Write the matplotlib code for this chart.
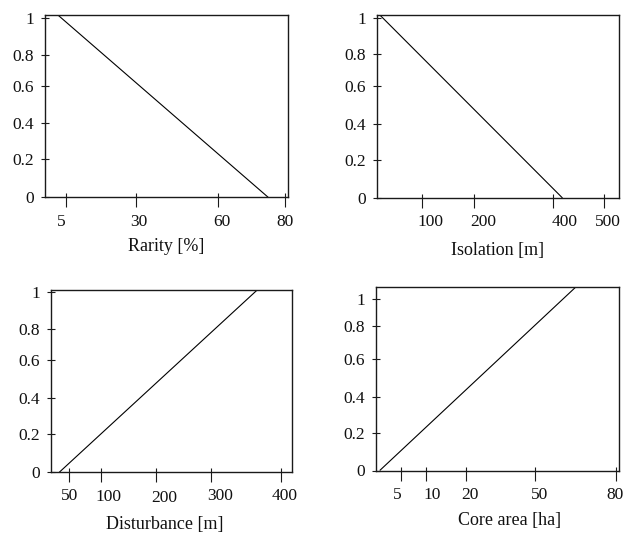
import numpy as np
import matplotlib
matplotlib.use("Agg")
import matplotlib.pyplot as plt

plt.rcParams['font.family'] = ['Liberation Serif', 'DejaVu Serif']

# Suitability curves (score vs. criterion value)
rarity = [2.1, 75]
rarity_score = [1.015, 0]
isolation = [20, 419]
isolation_score = [1.015, 0]
disturbance = [34, 366]
disturbance_score = [0, 1.009]
core_area = [0.8, 65]
core_score = [0, 1.088]

rarity_ticks = [5, 30, 60, 80]
isolation_ticks = [100, 200, 400, 500]
disturbance_ticks = [50, 100, 200, 300, 400]
core_ticks = [5, 10, 20, 50, 80]
score_ticks = [0, 0.2, 0.4, 0.6, 0.8, 1]
score_labels = ['0', '0.2', '0.4', '0.6', '0.8', '1']

W, H = 634, 535

# Layout in picture pixels. The original axes are hand drawn, tick spacing
# is uneven, so each axis gets a piecewise linear scale through its ticks.
panels = [
    dict(x=rarity, y=rarity_score, xticks=rarity_ticks, xlabel='Rarity [%]',
         box=(45, 15, 288.3, 197.3), xends=(-2.5, 81), ytop=1.015,
         xtick_px=[66, 135.7, 217.7, 285],
         xlab_px=[61.7, 139, 222.2, 285], xlab_py=[222.3] * 4,
         ytick_px=[197.3, 159.3, 123.3, 85.7, 55, 17.7],
         label_at=(166, 246.7)),
    dict(x=isolation, y=isolation_score, xticks=isolation_ticks, xlabel='Isolation [m]',
         box=(376.7, 15, 619.3, 198), xends=(14, 529), ytop=1.015,
         xtick_px=[421.7, 474, 552.7, 604.3],
         xlab_px=[430.8, 483, 564.2, 608.2], xlab_py=[222.3] * 4,
         ytick_px=[198, 160, 124, 86, 54.3, 17.7],
         label_at=(498, 250.7)),
    dict(x=disturbance, y=disturbance_score, xticks=disturbance_ticks, xlabel='Disturbance [m]',
         box=(50.7, 290, 292, 472.3), xends=(20.4, 415.7), ytop=1.009,
         xtick_px=[69.3, 100.7, 156, 211, 281],
         xlab_px=[69.5, 108.8, 164.5, 219.7, 284.5],
         xlab_py=[495.7, 496.7, 497.7, 495.7, 495.7],
         ytick_px=[472.3, 434, 397.7, 360, 329, 291.7],
         label_at=(165.2, 525)),
    dict(x=core_area, y=core_score, xticks=core_ticks, xlabel='Core area [ha]',
         box=(375.7, 287.3, 619.3, 470.5), xends=(0, 81.2), ytop=1.088,
         xtick_px=[401, 426, 465.7, 535, 616],
         xlab_px=[397, 431.7, 470, 540, 615.3], xlab_py=[495] * 5,
         ytick_px=[470.5, 433.3, 396.7, 359, 325.7, 299],
         label_at=(509.5, 521)),
]


def piecewise(xp, fp):
    xp = np.asarray(xp, float)
    fp = np.asarray(fp, float)

    def f(v):
        v = np.asarray(v, float)
        out = np.interp(v, xp, fp)
        lo = fp[0] + (v - xp[0]) * (fp[1] - fp[0]) / (xp[1] - xp[0])
        hi = fp[-1] + (v - xp[-1]) * (fp[-1] - fp[-2]) / (xp[-1] - xp[-2])
        out = np.where(v < xp[0], lo, out)
        out = np.where(v > xp[-1], hi, out)
        return out
    return f


fig = plt.figure(figsize=(W / 100, H / 100), dpi=100)
spine_c = '#1a1a1a'
text_c = '#111111'

for p in panels:
    left, top, right, bottom = p['box']
    ax = fig.add_axes([left / W, 1 - bottom / H, (right - left) / W, (bottom - top) / H])

    # x scale through the ticks
    xv = [p['xends'][0]] + p['xticks'] + [p['xends'][1]]
    xp = [left] + p['xtick_px'] + [right]
    ax.set_xscale('function', functions=(piecewise(xv, xp), piecewise(xp, xv)))
    ax.set_xlim(p['xends'])

    # y scale through the ticks
    yv = score_ticks + [p['ytop']]
    yp = [bottom - t for t in p['ytick_px']] + [bottom - top]
    ax.set_yscale('function', functions=(piecewise(yv, yp), piecewise(yp, yv)))
    ax.set_ylim(0, p['ytop'])

    ax.plot(p['x'], p['y'], color='black', lw=0.8, solid_capstyle='butt')

    for s in ax.spines.values():
        s.set_color(spine_c)
        s.set_linewidth(1.0)

    ax.set_yticks(score_ticks)
    ax.set_yticklabels(score_labels)
    ax.tick_params(axis='y', direction='inout', length=5.8, width=0.8,
                   color=spine_c, pad=5, labelsize=12.5, labelcolor=text_c)

    # x ticks stick out further than in: out major + in minor
    ax.xaxis.remove_overlapping_locs = False
    ax.set_xticks(p['xticks'])
    ax.set_xticks(p['xticks'], minor=True)
    ax.tick_params(axis='x', which='major', direction='out', length=7.2, width=0.8,
                   color=spine_c, labelbottom=False)
    ax.tick_params(axis='x', which='minor', direction='in', length=2.9, width=0.8,
                   color=spine_c, labelbottom=False)

    # tick labels sit a little off their ticks in the original
    for v, tx, lx, ly in zip(p['xticks'], p['xtick_px'], p['xlab_px'], p['xlab_py']):
        ax.annotate(str(v), xy=(v, 0), xycoords=('data', 'axes fraction'),
                    xytext=(lx - tx, -(ly - bottom)), textcoords='offset pixels',
                    ha='center', va='center', fontsize=12.5, color=text_c,
                    annotation_clip=False)

    lx, ly = p['label_at']
    fig.text(lx / W, 1 - ly / H, p['xlabel'], ha='center', va='center',
             fontsize=13, color=text_c)

fig.savefig('out.png', dpi=100)
